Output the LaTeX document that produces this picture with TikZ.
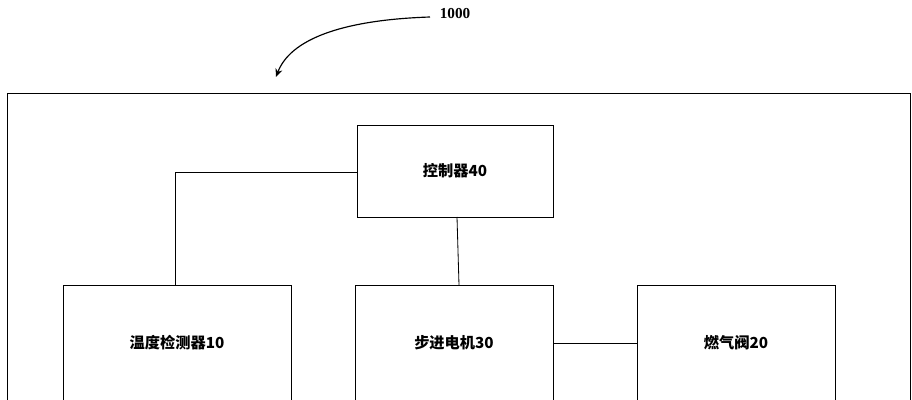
\documentclass[tikz,border=0pt]{standalone}
\usepackage{fontspec}
\setmainfont{Liberation Serif}
\newfontfamily\cjk{Noto Sans CJK SC}
\usetikzlibrary{arrows.meta}
\tikzset{
    unitbox/.style={draw, line width=.8pt, minimum width=5.94cm, minimum height=4.2cm,
        font=\cjk\bfseries\fontsize{13}{15}\selectfont},
    wire/.style={line width=.7pt},
}
\begin{document}
\begin{tikzpicture}[x=0.03cm, y=-0.03cm]
    \useasboundingbox (0,0) rectangle (912,400);
    \clip (0,0) rectangle (912,400);
    \draw[line width=.8pt] (7,93) rectangle (910,460);
    \node[unitbox, minimum width=5.88cm, minimum height=2.76cm] (ctrl) at (455,171) {控制器40};
    \node[unitbox, minimum width=6.84cm, minimum height=4.8cm] (sensor) at (177,365) {};
    \node[font=\cjk\bfseries\fontsize{13}{15}\selectfont] at (177,343) {温度检测器10};
    \node[unitbox, minimum height=4.8cm] (motor) at (454,365) {};
    \node[font=\cjk\bfseries\fontsize{13}{15}\selectfont] at (454,343) {步进电机30};
    \node[unitbox, minimum height=4.8cm] (valve) at (736,365) {};
    \node[font=\cjk\bfseries\fontsize{13}{15}\selectfont] at (736,343) {燃气阀20};
    \draw[wire] (ctrl.west |- 0,172) -| (175,285);
    \draw[wire] (457,217) -- (459,285);
    \draw[wire] (553,343) -- (638,343);
    \node[font=\bfseries\fontsize{13}{15}\selectfont] (lbl) at (455,14) {1000};
    \coordinate (tip) at (276,77);
    \draw[line width=1pt, -{Stealth[length=7pt, width=6pt]}] (430,17) .. controls (340,20) and (290,40) .. (tip);
\end{tikzpicture}
\end{document}
